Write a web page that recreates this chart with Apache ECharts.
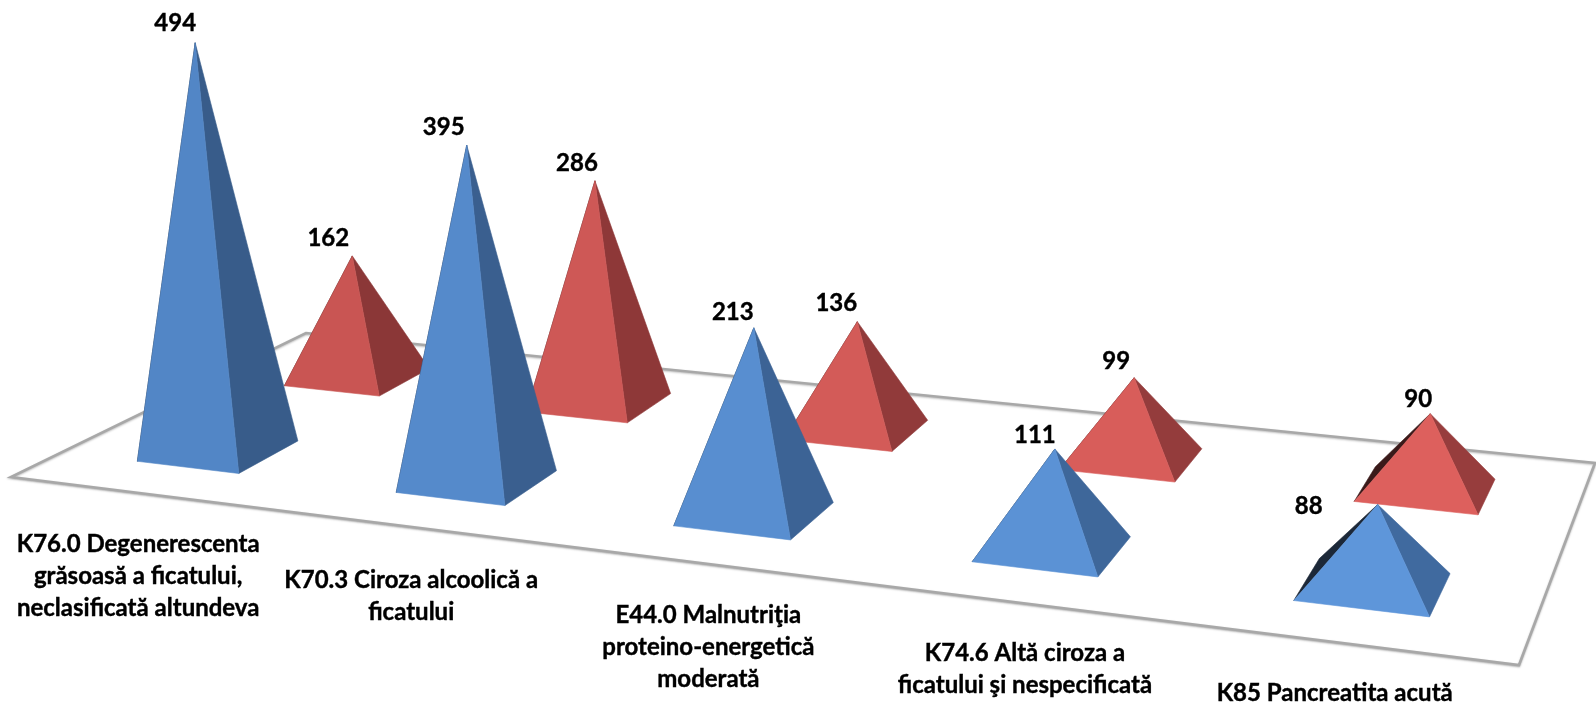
<!DOCTYPE html>
<html><head><meta charset="utf-8">
<style>html,body{margin:0;padding:0;background:#fff}#c{width:1596px;height:707px;filter:blur(0.5px)}</style>
<script src="https://cdn.jsdelivr.net/npm/echarts@6/dist/echarts.min.js"></script>
</head><body><div id="c"></div>
<script>
const categories = [
  'K76.0 Degenerescenta\ngrăsoasă a ficatului,\nneclasificată altundeva',
  'K70.3 Ciroza alcoolică a\nficatului',
  'E44.0 Malnutriţia\nproteino-energetică\nmoderată',
  'K74.6 Altă ciroza a\nficatului şi nespecificată',
  'K85 Pancreatita acută'
];
const blueValues = [494, 395, 213, 111, 88];
const redValues = [162, 286, 136, 99, 90];

// Layout of the 3D scene (not data)
const W = 1596, H = 707;
const floor = {fl:[11,477], fr:[1519,665], br:[1595,463], bl:[306,333]};
const depth = {blue:0.25, red:0.75};
const halfU = 0.04, shiftU = 0.001, halfV = 0.1, lean = 1e-4, leanCentre = 790;
const valueMax = 852, heightStretch = 17000;
const catLabelOffset = [[0,83],[5,70],[14,85],[20,68],[-6,50]];
const valueLabelOffset = {blue:[[-20,-19],[-23,-18],[-21,-16],[-20,-14],[-69,2]], red:[[-24,-18],[-18,-18],[-21,-18],[-18,-16],[-12,-14]]};
const palette = {
  blue:{front:[[80,132,196],[95,152,220]], right:[[55,90,135],[65,108,162]], left:'#1c2838'},
  red:{front:[[198,84,82],[224,97,94]], right:[[138,54,54],[152,62,62]], left:'#3a1a1a'}
};
const labelFont = 'bold 24px Lato, "Open Sans", sans-serif';

function makeProjection(f){
  const [x0,y0]=f.fl,[x1,y1]=f.fr,[x2,y2]=f.br,[x3,y3]=f.bl;
  const dx1=x1-x2,dx2=x3-x2,sx=x0-x1+x2-x3,dy1=y1-y2,dy2=y3-y2,sy=y0-y1+y2-y3;
  const den=dx1*dy2-dx2*dy1;
  const g=(sx*dy2-dx2*sy)/den,h=(dx1*sy-sx*dy1)/den;
  const a=x1-x0+g*x1,b=x3-x0+h*x3,d=y1-y0+g*y1,e=y3-y0+h*y3;
  const p=(u,v)=>{const w=g*u+h*v+1;return [(a*u+b*v+x0)/w,(d*u+e*v+y0)/w];};
  p.w=(u,v)=>g*u+h*v+1;
  return p;
}
const project = makeProjection(floor);
const mix=(c,t)=>{const o=c[0].map((x,i)=>Math.round(x+(c[1][i]-x)*t));return `rgb(${o.join(',')})`;};

function pyramid(key){
  return function(params, api){
    const i=api.value(0), val=api.value(1);
    const u0=api.coord([i,0])[0]/W, u=u0+shiftU, v=depth[key];
    const pal=palette[key];
    const left=project(u-halfU,v-halfV), front=project(u+halfU,v-halfV),
          right=project(u+halfU,v+halfV), back=project(u-halfU,v+halfV);
    const c=project(u,v);
    const h0=api.size([0,val])[1]/project.w(u,v);
    const h=h0*(1+h0/heightStretch);
    const apex=[c[0]+lean*(c[0]-leanCentre)*h, c[1]-h];
    const off=valueLabelOffset[key][i];
    const poly=(pts,fill)=>({type:'polygon',shape:{points:pts},style:{fill:fill,stroke:fill,lineWidth:0.6}});
    return {type:'group',children:[
      poly([back,left,apex],pal.left),
      poly([right,front,apex],mix(pal.right,u0)),
      poly([left,front,apex],mix(pal.front,u0)),
      {type:'text',style:{text:String(val),x:apex[0]+off[0],y:apex[1]+off[1],align:'center',verticalAlign:'middle',
        font:labelFont,fill:'#000',stroke:'#000',lineWidth:0.4}}
    ]};
  };
}
function floorItem(){
  const pts=[project(0,0),project(1,0),project(1,1),project(0,1)];
  return {type:'polygon',shape:{points:pts},style:{fill:'#fff',stroke:'#a8a8a8',lineWidth:2.6,lineJoin:'miter',
    shadowColor:'rgba(0,0,0,0.25)',shadowBlur:2,shadowOffsetY:1}};
}
function catLabel(params, api){
  const i=api.value(0);
  const u=api.coord([i,0])[0]/W;
  const p=project(u,0), off=catLabelOffset[i];
  return {type:'text',style:{text:categories[i],x:p[0]+off[0],y:p[1]+off[1],align:'center',verticalAlign:'middle',
    font:labelFont,lineHeight:32,fill:'#000',stroke:'#000',lineWidth:0.4}};
}
const points=arr=>arr.map((v,i)=>[i,v]);
const chart=echarts.init(document.getElementById('c'),null,{renderer:'canvas'});
chart.setOption({
  animation:false,
  backgroundColor:'#fff',
  grid:{left:0,top:0,width:W,height:H},
  xAxis:{type:'category',data:categories,show:false},
  yAxis:{type:'value',min:0,max:valueMax,show:false},
  series:[
    {type:'custom',name:'floor',renderItem:floorItem,data:[[0,0]],clip:false,z:1,silent:true},
    {type:'custom',name:'red',renderItem:pyramid('red'),data:points(redValues),encode:{x:0,y:1},clip:false,z:2},
    {type:'custom',name:'blue',renderItem:pyramid('blue'),data:points(blueValues),encode:{x:0,y:1},clip:false,z:3},
    {type:'custom',name:'labels',renderItem:catLabel,data:points(categories.map(()=>0)),encode:{x:0,y:1},clip:false,z:4}
  ]
});
</script></body></html>
